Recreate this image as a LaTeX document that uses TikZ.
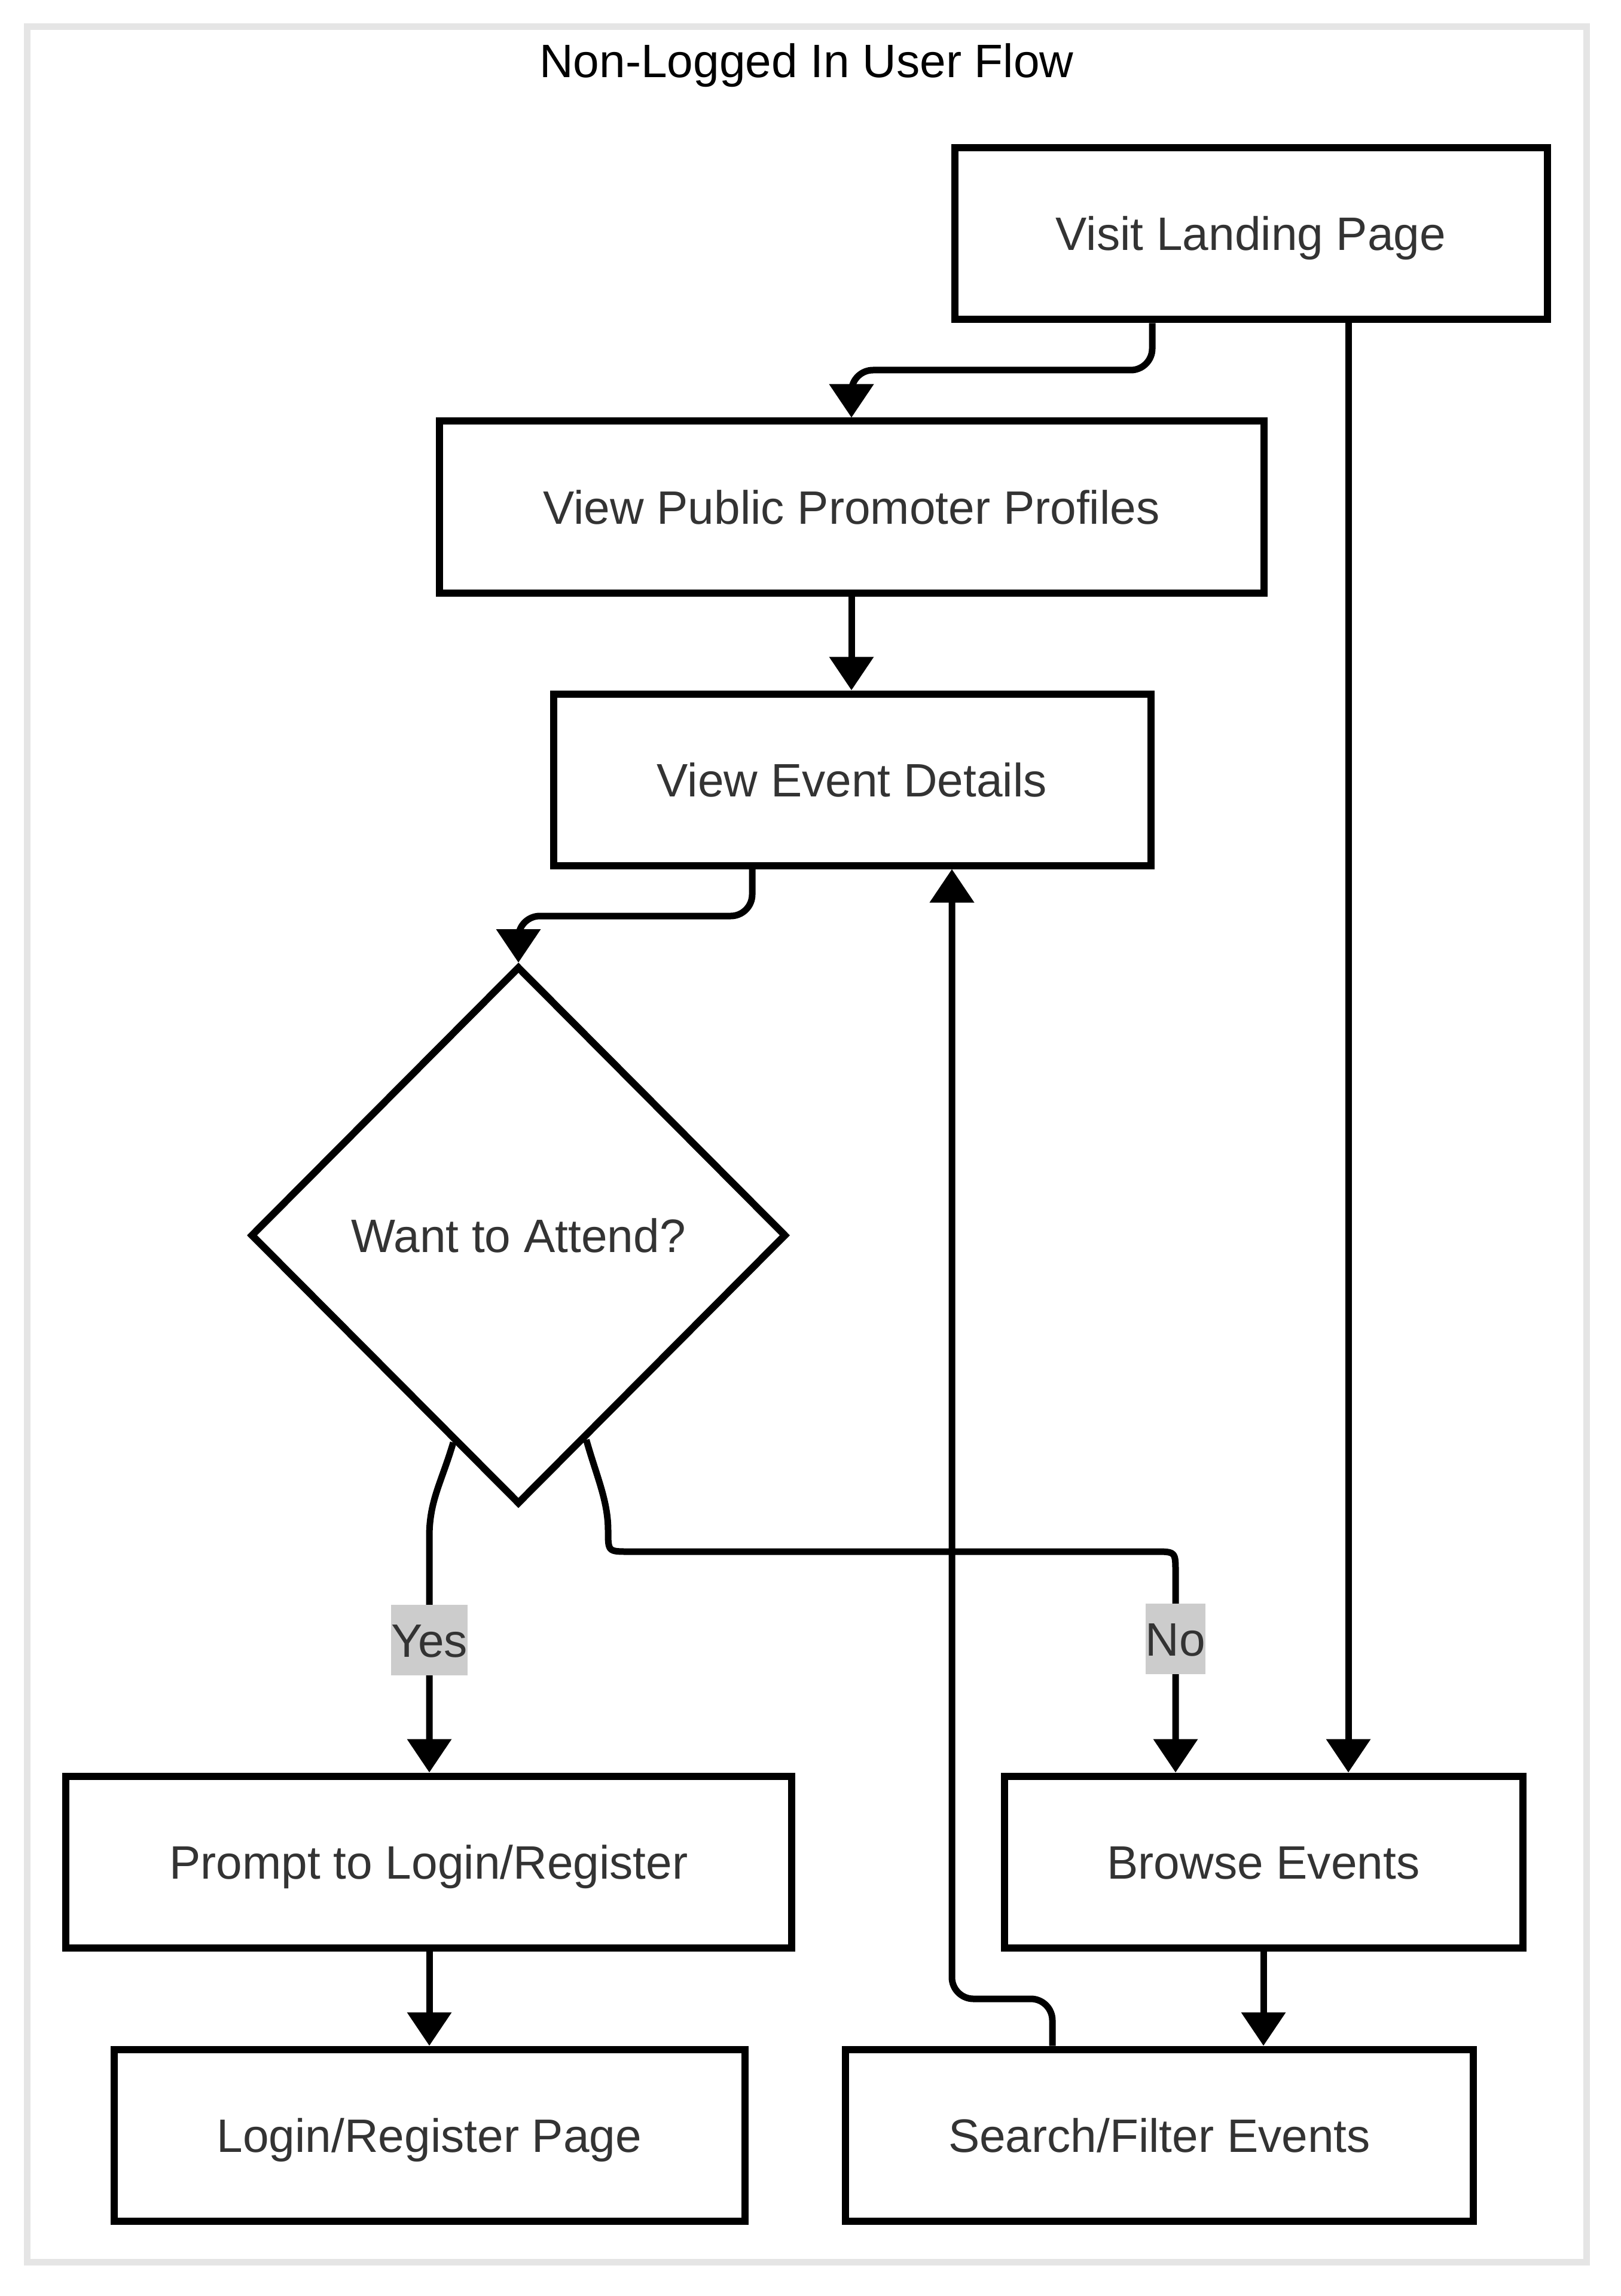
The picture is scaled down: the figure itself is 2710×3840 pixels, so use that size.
\documentclass[tikz,border=0pt]{standalone}
\usepackage{fontspec}
\setmainfont{Liberation Sans}
\usetikzlibrary{arrows.meta,shapes.geometric,calc}
\definecolor{txt}{HTML}{333333}
\definecolor{framegray}{HTML}{E5E5E5}
\definecolor{lblgray}{HTML}{CCCCCC}
\begin{document}
\begin{tikzpicture}[x=0.25pt,y=-0.25pt,
  box/.style={draw=black, line width=3pt, fill=white, rectangle, minimum height=71.75pt,
    inner sep=0pt, text=txt, font=\fontsize{19.6pt}{23.5pt}\selectfont,
    text height=14pt, text depth=0pt},
  decision/.style={draw=black, line width=3pt, fill=white, diamond, minimum width=224pt,
    minimum height=225pt, inner sep=0pt, text=txt, font=\fontsize{19.6pt}{23.5pt}\selectfont,
    text height=14pt, text depth=0pt},
  flow/.style={draw=black, line width=2.75pt, -{Triangle[length=14pt,width=18pt]},
    rounded corners=9pt},
  curveflow/.style={draw=black, line width=2.75pt, -{Triangle[length=14pt,width=18pt]},
    sharp corners, line join=round},
  lab/.style={fill=lblgray, text=txt, font=\fontsize{19.6pt}{23.5pt}\selectfont,
    inner xsep=0pt, inner ysep=0pt, minimum height=29.5pt, text height=14pt, text depth=0pt}]
\useasboundingbox (0,0) rectangle (2710,3840);
\fill[white] (0,0) rectangle (2710,3840);
\draw[framegray, line width=2.75pt] (45,45) rectangle (2653,3783);
\node[anchor=base, text=black, font=\fontsize{19.6pt}{23.5pt}\selectfont] (title) at (1349,130) {Non-Logged In User Flow};

\node[box, minimum width=247.75pt] (landing) at (2092,391) {Visit Landing Page};
\node[box, minimum width=344.75pt] (profiles) at (1424,848) {View Public Promoter Profiles};
\node[box, minimum width=249.75pt] (event) at (1425,1304) {View Event Details};
\node[decision] (dia) at (867,2066) {Want to Attend?};
\node[box, minimum width=303.5pt] (prompt) at (717,3114) {Prompt to Login/Register};
\node[box, minimum width=216.75pt] (browse) at (2113,3114) {Browse Events};
\node[box, minimum width=263.75pt] (login) at (718,3571) {Login/Register Page};
\node[box, minimum width=262.5pt] (search) at (1939,3571) {Search/Filter Events};

% Landing -> Profiles
\draw[flow] (1927,0 |- landing.south) -- (1927,619) -- (1424,619) -- (profiles.north);
% Landing -> Browse
\draw[flow] (2255,0 |- landing.south) -- (2255,0 |- browse.north);
% Profiles -> Event
\draw[flow] (profiles.south) -- (1424,0 |- event.north);
% Event -> Decision
\draw[flow] (1258,0 |- event.south) -- (1258,1532) -- (867,1532) -- (dia.north);
% Decision -> Prompt (Yes)
\coordinate (y1) at ($(dia.south)!0.24!(dia.west)$);
\coordinate (n1) at ($(dia.south)!0.25!(dia.east)$);
\draw[curveflow] (y1) .. controls (738,2480) and (718,2510) .. (718,2570) -- (718,0 |- prompt.north);
% Decision -> Browse (No)
\draw[curveflow] (n1) .. controls (998,2470) and (1017,2510) .. (1017,2560)
  .. controls (1017,2595) .. (1052,2595) -- (1931,2595)
  .. controls (1966,2595) .. (1966,2630) -- (1966,0 |- browse.north);
% Browse -> Search
\draw[flow] (2113,0 |- browse.south) -- (2113,0 |- search.north);
% Search -> Event
\draw[flow] (1760,0 |- search.north) -- (1760,3343) -- (1592,3343) -- (1592,0 |- event.south);
% Prompt -> Login
\draw[flow] (718,0 |- prompt.south) -- (718,0 |- login.north);

\node[lab] (lyes) at (718,2743) {Yes};
\node[lab] (lno) at (1966,2741) {No};
\end{tikzpicture}
\end{document}
